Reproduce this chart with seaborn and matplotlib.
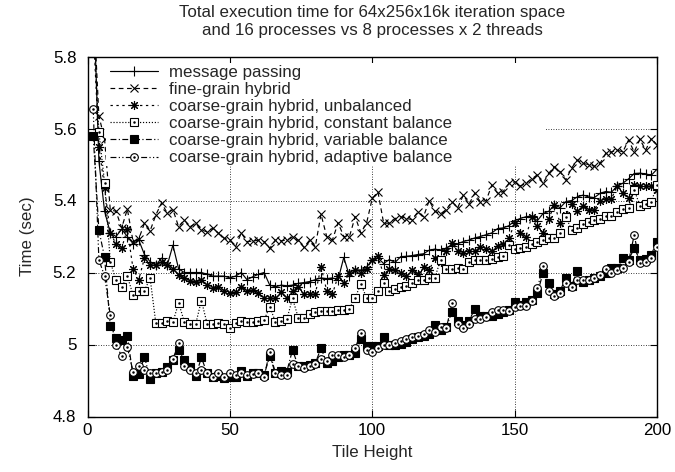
import matplotlib
matplotlib.use("Agg")
import matplotlib.pyplot as plt
from matplotlib.patches import Rectangle
import seaborn as sns

# ---------------- data ----------------
tile_height = list(range(2, 201, 2))

message_passing = [
    6.00, 5.51, 5.37, 5.31, 5.30, 5.32, 5.30, 5.28, 5.29, 5.25,
    5.23, 5.22, 5.24, 5.22, 5.276, 5.21, 5.20, 5.20, 5.20, 5.20,
    5.195, 5.19, 5.19, 5.19, 5.185, 5.19, 5.20, 5.18, 5.188, 5.195,
    5.20, 5.165, 5.16, 5.165, 5.163, 5.165, 5.17, 5.172, 5.175, 5.18,
    5.185, 5.183, 5.185, 5.18, 5.242, 5.19, 5.207, 5.207, 5.215, 5.235,
    5.24, 5.225, 5.236, 5.228, 5.244, 5.245, 5.247, 5.25, 5.252, 5.262,
    5.265, 5.262, 5.268, 5.275, 5.28, 5.286, 5.29, 5.296, 5.30, 5.305,
    5.31, 5.322, 5.324, 5.33, 5.344, 5.35, 5.355, 5.357, 5.344, 5.364,
    5.37, 5.388, 5.38, 5.397, 5.40, 5.41, 5.415, 5.41, 5.408, 5.42,
    5.425, 5.423, 5.44, 5.448, 5.46, 5.475, 5.476, 5.474, 5.47, 5.487,
]

fine_grain = [
    5.96, 5.635, 5.57, 5.374, 5.37, 5.324, 5.376, 5.286, 5.293, 5.337,
    5.316, 5.36, 5.393, 5.365, 5.375, 5.327, 5.346, 5.327, 5.337, 5.318,
    5.313, 5.323, 5.309, 5.295, 5.29, 5.272, 5.31, 5.286, 5.287, 5.29,
    5.286, 5.267, 5.29, 5.288, 5.29, 5.298, 5.29, 5.27, 5.29, 5.272,
    5.362, 5.30, 5.29, 5.338, 5.30, 5.30, 5.355, 5.31, 5.337, 5.406,
    5.424, 5.337, 5.337, 5.35, 5.355, 5.35, 5.347, 5.368, 5.355, 5.40,
    5.37, 5.363, 5.375, 5.397, 5.38, 5.415, 5.39, 5.42, 5.396, 5.40,
    5.443, 5.42, 5.425, 5.448, 5.452, 5.44, 5.448, 5.46, 5.471, 5.448,
    5.476, 5.494, 5.48, 5.457, 5.49, 5.512, 5.503, 5.50, 5.495, 5.503,
    5.531, 5.535, 5.54, 5.535, 5.568, 5.535, 5.57, 5.54, 5.572, 5.554,
]

unbalanced = [
    5.88, 5.55, 5.435, 5.31, 5.28, 5.268, 5.32, 5.21, 5.18, 5.24,
    5.22, 5.22, 5.23, 5.22, 5.21, 5.193, 5.185, 5.177, 5.174, 5.18,
    5.165, 5.156, 5.16, 5.15, 5.143, 5.145, 5.16, 5.15, 5.151, 5.143,
    5.128, 5.128, 5.128, 5.145, 5.128, 5.15, 5.16, 5.14, 5.14, 5.14,
    5.216, 5.15, 5.14, 5.19, 5.17, 5.20, 5.207, 5.20, 5.21, 5.235,
    5.245, 5.193, 5.21, 5.207, 5.20, 5.19, 5.207, 5.195, 5.216, 5.207,
    5.24, 5.23, 5.26, 5.281, 5.26, 5.255, 5.26, 5.26, 5.27, 5.265,
    5.26, 5.275, 5.28, 5.295, 5.337, 5.31, 5.30, 5.355, 5.33, 5.31,
    5.35, 5.388, 5.337, 5.36, 5.39, 5.37, 5.385, 5.375, 5.375, 5.40,
    5.405, 5.405, 5.44, 5.42, 5.408, 5.444, 5.44, 5.44, 5.44, 5.43,
]

constant_balance = [
    5.90, 5.59, 5.45, 5.23, 5.179, 5.159, 5.19, 5.137, 5.15, 5.15,
    5.184, 5.059, 5.06, 5.065, 5.062, 5.116, 5.063, 5.057, 5.057, 5.122,
    5.058, 5.057, 5.06, 5.058, 5.045, 5.06, 5.065, 5.063, 5.063, 5.065,
    5.068, 5.105, 5.063, 5.065, 5.07, 5.128, 5.075, 5.075, 5.085, 5.09,
    5.093, 5.093, 5.093, 5.095, 5.095, 5.10, 5.13, 5.168, 5.13, 5.13,
    5.15, 5.172, 5.15, 5.155, 5.16, 5.162, 5.17, 5.178, 5.18, 5.186,
    5.186, 5.235, 5.21, 5.21, 5.212, 5.21, 5.23, 5.235, 5.235, 5.236,
    5.238, 5.243, 5.245, 5.276, 5.265, 5.268, 5.272, 5.28, 5.285, 5.29,
    5.295, 5.295, 5.31, 5.355, 5.318, 5.325, 5.336, 5.34, 5.345, 5.35,
    5.356, 5.358, 5.367, 5.376, 5.38, 5.43, 5.385, 5.39, 5.395, 5.444,
]

variable_balance = [
    5.58, 5.318, 5.242, 5.052, 5.019, 5.012, 5.024, 4.912, 4.917, 4.966,
    4.905, 4.92, 4.925, 4.937, 4.957, 4.985, 4.957, 4.937, 4.912, 4.964,
    4.92, 4.91, 4.912, 4.908, 4.91, 4.91, 4.926, 4.912, 4.92, 4.92,
    4.915, 4.968, 4.92, 4.927, 4.925, 4.985, 4.94, 4.94, 4.942, 4.948,
    4.99, 4.95, 4.953, 4.966, 4.97, 4.972, 4.976, 5.014, 4.995, 4.995,
    4.995, 5.02, 5.0, 5.0, 5.002, 5.008, 5.015, 5.02, 5.025, 5.03,
    5.054, 5.04, 5.048, 5.091, 5.065, 5.055, 5.065, 5.10, 5.08, 5.08,
    5.08, 5.085, 5.09, 5.095, 5.119, 5.11, 5.119, 5.125, 5.142, 5.20,
    5.17, 5.14, 5.15, 5.184, 5.163, 5.205, 5.175, 5.18, 5.185, 5.19,
    5.20, 5.212, 5.212, 5.24, 5.235, 5.267, 5.235, 5.237, 5.25, 5.286,
]

adaptive_balance = [
    5.654, 5.235, 5.19, 5.082, 4.999, 4.968, 4.992, 4.925, 4.94, 4.93,
    4.92, 4.92, 4.923, 4.93, 4.96, 5.003, 4.94, 4.93, 4.92, 4.93,
    4.92, 4.91, 4.92, 4.91, 4.92, 4.915, 4.92, 4.915, 4.917, 4.92,
    4.91, 4.98, 4.92, 4.915, 4.915, 4.946, 4.94, 4.935, 4.94, 4.946,
    4.96, 4.955, 4.97, 4.97, 4.965, 4.972, 4.99, 5.031, 4.985, 4.98,
    4.99, 5.0, 5.0, 5.005, 5.01, 5.014, 5.02, 5.025, 5.028, 5.04,
    5.035, 5.05, 5.045, 5.114, 5.057, 5.047, 5.058, 5.07, 5.07, 5.077,
    5.09, 5.095, 5.095, 5.093, 5.105, 5.108, 5.108, 5.12, 5.156, 5.218,
    5.148, 5.136, 5.143, 5.17, 5.16, 5.18, 5.18, 5.18, 5.186, 5.192,
    5.21, 5.20, 5.206, 5.212, 5.23, 5.304, 5.226, 5.23, 5.24, 5.272,
]

labels = [
    "message passing",
    "fine-grain hybrid",
    "coarse-grain hybrid, unbalanced",
    "coarse-grain hybrid, constant balance",
    "coarse-grain hybrid, variable balance",
    "coarse-grain hybrid, adaptive balance",
]
x_ticks = [0, 50, 100, 150, 200]
y_ticks = [4.8, 5.0, 5.2, 5.4, 5.6, 5.8]
y_ticklabels = ["4.8", "5", "5.2", "5.4", "5.6", "5.8"]

# ---------------- style ----------------
sns.set_theme(style="ticks")
plt.rcParams["font.family"] = ["Liberation Sans", "DejaVu Sans"]
FS = 12.2

fig = plt.figure(figsize=(6.75, 4.72), dpi=100)
ax = fig.add_axes([87.5 / 675, 1 - 416.5 / 472, 569.5 / 675, 360 / 472])

series = [
    (message_passing, "-", "+", 7, "black", False),
    (fine_grain, (0, (4, 3)), "x", 5.5, "black", False),
    (unbalanced, (0, (2, 3)), (8, 2, 0), 6.5, "black", False),
    (constant_balance, (0, (1, 1.5)), "s", 5.5, "white", True),
    (variable_balance, (0, (5, 2, 1, 2)), "s", 5.5, "black", False),
    (adaptive_balance, (0, (5, 2, 1, 2, 1, 2)), "o", 5.5, "white", True),
]

handles = []
for (vals, ls, mk, ms, mfc, dot), lab in zip(series, labels):
    sns.lineplot(x=tile_height, y=vals, ax=ax, color="black", linewidth=0.85,
                 linestyle=ls, marker=mk, markersize=ms, markerfacecolor=mfc,
                 markeredgecolor="black", markeredgewidth=0.8,
                 label=lab, zorder=3, legend=False)
    main = ax.get_lines()[-1]
    if dot:
        d = ax.plot(tile_height, vals, ls="none", marker=".", ms=1.6,
                    color="black", zorder=4)[0]
        handles.append((main, d))
    else:
        handles.append(main)

ax.set_xlim(0, 200)
ax.set_ylim(4.8, 5.8)
ax.set_xticks(x_ticks)
ax.set_yticks(y_ticks)
ax.set_yticklabels(y_ticklabels)
ax.grid(True, linestyle=(0, (1, 2)), color="black", linewidth=0.6)
ax.set_axisbelow(True)
ax.tick_params(direction="in", top=True, right=True, length=5, width=0.8,
               labelsize=FS, colors="black")
ax.tick_params(axis="y", pad=8)
ax.tick_params(axis="x", pad=5)
for s in ax.spines.values():
    s.set_color("black")
    s.set_linewidth(1.0)

ax.set_xlabel("Tile Height", fontsize=FS, labelpad=5)
ax.set_ylabel("Time (sec)", fontsize=FS, labelpad=13)

# opaque key box
ax.add_patch(Rectangle((0.033, 0.696), 0.772, 0.286, transform=ax.transAxes,
                       facecolor="white", edgecolor="none", zorder=5))
leg = ax.legend(handles, labels, loc="upper left", bbox_to_anchor=(0.034, 0.985),
                frameon=False, fontsize=FS, handlelength=2.8, handletextpad=0.65,
                labelspacing=0.12, borderpad=0.2, borderaxespad=0, numpoints=1)
leg.set_zorder(6)

fig.text(372 / 675, 1 - 5.5 / 472,
         "Total execution time for 64x256x16k iteration space\n"
         "and 16 processes vs 8 processes x 2 threads",
         ha="center", va="top", fontsize=FS, linespacing=1.2)

fig.savefig("out.png", dpi=100)
